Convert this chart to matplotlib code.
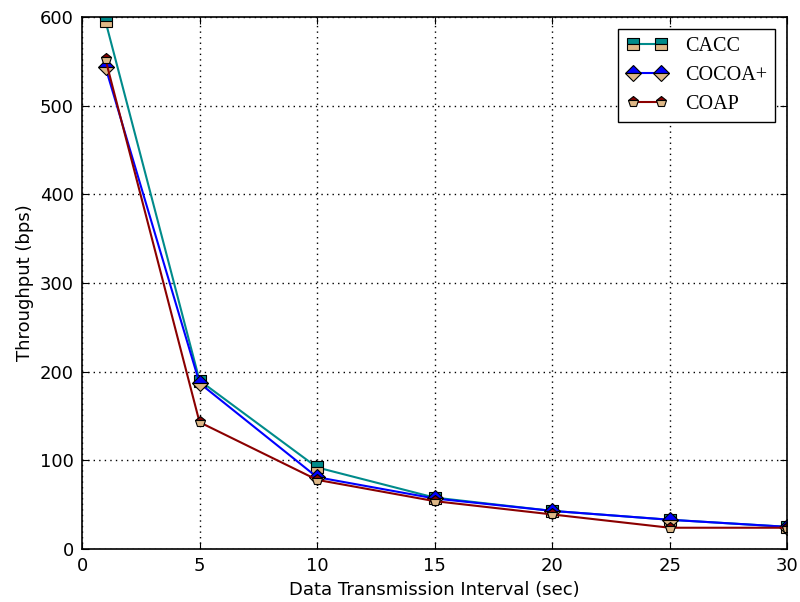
import matplotlib
matplotlib.use("Agg")
import matplotlib.pyplot as plt

intervals = [1, 5, 10, 15, 20, 25, 30]
cacc = [595, 190, 92, 58, 43, 33, 25]
cocoa = [543, 187, 81, 57, 43, 33, 25]
coap = [552, 143, 78, 54, 39, 24, 24]

tan = "#deb887"

fig = plt.figure(figsize=(8, 6.02), dpi=100)
ax = fig.add_axes([0.1025, 0.088, 0.8815, 0.884])

ax.plot(intervals, cacc, color="#008b8b", lw=1.5, marker="s", markersize=8,
        fillstyle="top", markerfacecolor="#008b8b", markerfacecoloralt=tan,
        markeredgecolor="black", markeredgewidth=0.8, label="CACC")
ax.plot(intervals, cocoa, color="blue", lw=1.5, marker="D", markersize=8,
        fillstyle="top", markerfacecolor="blue", markerfacecoloralt=tan,
        markeredgecolor="black", markeredgewidth=0.8, label="COCOA+")
ax.plot(intervals, coap, color="#8b0000", lw=1.5, marker="p", markersize=8,
        fillstyle="top", markerfacecolor="#8b0000", markerfacecoloralt=tan,
        markeredgecolor="black", markeredgewidth=0.8, label="COAP")

ax.set_xlim(0, 30)
ax.set_ylim(0, 600)
ax.set_xticks([0, 5, 10, 15, 20, 25, 30])
ax.set_yticks([0, 100, 200, 300, 400, 500, 600])
ax.tick_params(direction="in", length=5, labelsize=13, top=True, right=True, pad=6)
ax.grid(True, color="black", linestyle=(0, (1, 3)), linewidth=1)
ax.set_xlabel("Data Transmission Interval (sec)", fontsize=13)
ax.set_ylabel("Throughput (bps)", fontsize=13)
for s in ax.spines.values():
    s.set_linewidth(1.2)

leg = ax.legend(loc="upper right", numpoints=2, fancybox=False, framealpha=1,
                edgecolor="black", prop={"family": "Liberation Serif", "size": 14.5},
                handlelength=2.0, handletextpad=0.9, borderaxespad=0.6)
leg.get_frame().set_linewidth(1)

fig.savefig("out.png", dpi=100)
